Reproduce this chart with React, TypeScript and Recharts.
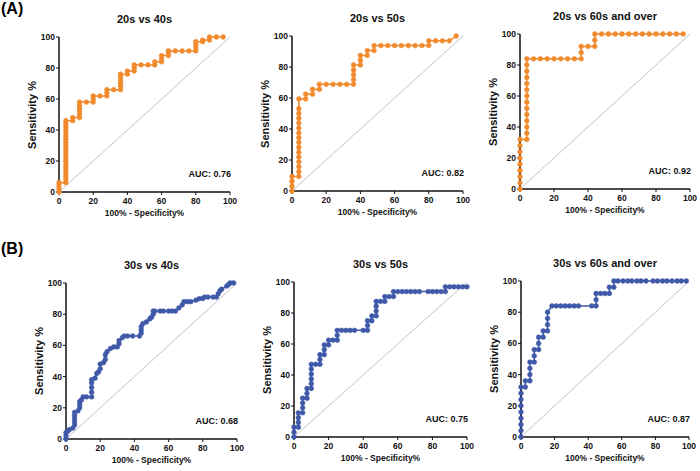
import React from 'react'
import { LineChart, Line, XAxis, YAxis, ReferenceLine } from 'recharts'

// axis ticks shared by every panel
const ticks = [0, 20, 40, 60, 80, 100]

// ROC points: [100% - specificity, sensitivity]
const roc20v40: [number, number][] = [
  [0, 0], [0, 2], [0, 4], [0, 6], [4, 6], [4, 8], [4, 10], [4, 12], [4, 14], [4, 16], [4, 18],
  [4, 20], [4, 22], [4, 24], [4, 26], [4, 28], [4, 30], [4, 32], [4, 34], [4, 36], [4, 38],
  [4, 40], [4, 42], [4, 44], [4, 46], [8, 46], [8, 48], [12, 48], [12, 50], [12, 52], [12, 54],
  [12, 56], [12, 58], [16, 58], [20, 58], [20, 60], [20, 62], [24, 62], [28, 62], [28, 64],
  [28, 66], [32, 66], [36, 66], [36, 68], [36, 70], [36, 72], [36, 74], [36, 76], [40, 76],
  [40, 78], [44, 78], [44, 80], [44, 82], [48, 82], [52, 82], [56, 82], [56, 84], [60, 84],
  [60, 86], [60, 88], [64, 88], [64, 90], [64, 91], [68, 91], [72, 91], [76, 91], [80, 91],
  [80, 93], [80, 95], [80, 97], [84, 97], [84, 98], [88, 98], [88, 100], [92, 100], [96, 100],
]

const roc20v50: [number, number][] = [
  [0, 0], [0, 3.1], [0, 6.3], [0, 9.4], [4, 9.4], [4, 12.5], [4, 15.6], [4, 18.8], [4, 21.9],
  [4, 25], [4, 28.1], [4, 31.3], [4, 34.4], [4, 37.5], [4, 40.6], [4, 43.8], [4, 46.9], [4, 50],
  [4, 53.1], [4, 59.4], [8, 59.4], [8, 62.5], [12, 62.5], [12, 65.6], [16, 65.6], [16, 68.8],
  [20, 68.8], [24, 68.8], [28, 68.8], [32, 68.8], [36, 68.8], [36, 71.9], [36, 75], [36, 78.1],
  [36, 81.3], [40, 81.3], [40, 84.4], [40, 87.5], [44, 87.5], [44, 90.6], [48, 90.6], [48, 93.8],
  [52, 93.8], [56, 93.8], [60, 93.8], [64, 93.8], [68, 93.8], [72, 93.8], [76, 93.8], [80, 93.8],
  [80, 96.9], [84, 96.9], [88, 96.9], [92, 96.9], [96, 100],
]

const roc20v60: [number, number][] = [
  [0, 0], [0, 4], [0, 8], [0, 12], [0, 16], [0, 20], [0, 24], [0, 28], [0, 32], [4, 32], [4, 36],
  [4, 40], [4, 44], [4, 48], [4, 52], [4, 56], [4, 60], [4, 64], [4, 68], [4, 72], [4, 76],
  [4, 80], [4, 84], [8, 84], [12, 84], [16, 84], [20, 84], [24, 84], [28, 84], [32, 84], [36, 84],
  [36, 88], [36, 92], [40, 92], [44, 92], [44, 96], [44, 100], [48, 100], [52, 100], [56, 100],
  [60, 100], [64, 100], [68, 100], [72, 100], [76, 100], [80, 100], [84, 100], [88, 100],
  [92, 100], [96, 100],
]

const roc30v40: [number, number][] = [
  [0, 0], [0, 2], [0, 4], [1, 5], [2, 6], [4, 7], [5, 9], [5, 11], [5, 13], [5, 15], [5, 17],
  [7, 18], [8, 20], [8, 22], [8, 24], [9, 25], [10, 27], [12, 27], [15, 27], [15, 30], [15, 33],
  [15, 36], [15, 38], [17, 39], [18, 42], [19, 43], [20, 45], [20, 48], [22, 49], [23, 51],
  [23, 54], [24, 56], [26, 58], [28, 59], [30, 59], [31, 61], [31, 63], [33, 65], [34, 66],
  [36, 66], [39, 66], [43, 66], [44, 68], [44, 70], [44, 72], [45, 74], [47, 75], [49, 77],
  [50, 78], [51, 80], [51, 82], [52, 82], [55, 82], [57, 82], [60, 82], [62, 82], [64, 82],
  [66, 84], [68, 86], [69, 88], [71, 88], [73, 88], [76, 89], [78, 90], [80, 90], [81, 91],
  [83, 91], [86, 91], [88, 91], [89, 93], [90, 95], [91, 96], [94, 98], [95, 99], [96, 100],
  [98, 100],
]

const roc30v50: [number, number][] = [
  [0, 0], [0, 3.1], [0, 6.3], [2.5, 6.3], [2.5, 9.4], [2.5, 12.5], [2.5, 15.6], [5, 15.6],
  [5, 18.8], [5, 21.9], [5, 25], [7.5, 25], [7.5, 28.1], [7.5, 31.3], [10, 31.3], [10, 34.4],
  [10, 37.5], [10, 40.6], [10, 43.8], [10, 46.9], [12.5, 46.9], [15, 46.9], [15, 50], [15, 53.1],
  [17.5, 53.1], [17.5, 56.3], [17.5, 59.4], [20, 59.4], [20, 62.5], [22.5, 62.5], [25, 62.5],
  [25, 65.6], [25, 68.8], [27.5, 68.8], [30, 68.8], [32.5, 68.8], [35, 68.8], [40, 68.8],
  [42.5, 68.8], [42.5, 71.9], [42.5, 75], [45, 75], [45, 78.1], [47.5, 78.1], [47.5, 81.3],
  [47.5, 84.4], [47.5, 87.5], [50, 87.5], [52.5, 87.5], [52.5, 90.6], [55, 90.6], [57.5, 90.6],
  [57.5, 93.8], [60, 93.8], [62.5, 93.8], [65, 93.8], [67.5, 93.8], [70, 93.8], [72.5, 93.8],
  [77.5, 93.8], [80, 93.8], [82.5, 93.8], [85, 93.8], [87.5, 93.8], [87.5, 96.9], [90, 96.9],
  [92.5, 96.9], [95, 96.9], [97.5, 96.9], [100, 96.9],
]

const roc30v60: [number, number][] = [
  [0, 0], [0, 4], [0, 8], [0, 12], [0, 16], [0, 20], [0, 24], [0, 28], [0, 32], [2.6, 32],
  [2.6, 36], [5.3, 36], [5.3, 40], [5.3, 44], [5.3, 48], [7.9, 48], [7.9, 52], [7.9, 56],
  [10.5, 56], [10.5, 60], [10.5, 64], [13.2, 64], [13.2, 68], [15.8, 68], [15.8, 72], [15.8, 76],
  [15.8, 80], [18.4, 84], [21, 84], [23.7, 84], [26.3, 84], [28.9, 84], [31.6, 84], [34.2, 84],
  [42.1, 84], [44.7, 84], [44.7, 88], [44.7, 92], [47.4, 92], [50, 92], [52.6, 92], [52.6, 96],
  [55.3, 96], [55.3, 100], [57.7, 100], [60.7, 100], [63.5, 100], [66, 100], [69, 100],
  [71.4, 100], [74.4, 100], [78.6, 100], [81.3, 100], [84.3, 100], [86.9, 100], [89.9, 100],
  [92.9, 100], [95.4, 100], [98.4, 100],
]

const ORANGE = '#F08A2D'
const BLUE = '#3F58A8'
const FONT = '"Liberation Sans", Arial, sans-serif'

// chart frame around each plot area
const YW = 30
const MT = 6
const MR = 10
const XH = 22

interface PanelProps {
  left: number
  top: number
  w: number
  h: number
  points: [number, number][]
  color: string
  title: string
  auc: string
}

function RocPanel({ left, top, w, h, points, color, title, auc }: PanelProps) {
  const data = points.map(([x, y]) => ({ x, y }))
  const axisTick = { fontSize: 8.5, fontWeight: 700, fill: '#111' }
  const bold = { position: 'absolute' as const, fontWeight: 700, color: '#111', whiteSpace: 'nowrap' as const, lineHeight: 1 }

  return (
    <div style={{ position: 'absolute', left: left - YW, top: top - MT }}>
      <LineChart
        width={YW + w + MR}
        height={MT + h + XH}
        data={data}
        margin={{ top: MT, right: MR, bottom: 0, left: 0 }}
      >
        <XAxis
          type="number"
          dataKey="x"
          domain={[0, 100]}
          ticks={ticks}
          height={XH}
          tick={axisTick}
          tickSize={3}
          tickMargin={3}
          axisLine={{ stroke: '#111', strokeWidth: 1.5 }}
          tickLine={{ stroke: '#111', strokeWidth: 1 }}
        />
        <YAxis
          type="number"
          domain={[0, 100]}
          ticks={ticks}
          width={YW}
          tick={axisTick}
          tickSize={3}
          tickMargin={1}
          axisLine={{ stroke: '#111', strokeWidth: 1.5 }}
          tickLine={{ stroke: '#111', strokeWidth: 1 }}
        />
        <ReferenceLine
          segment={[{ x: 0, y: 0 }, { x: 100, y: 100 }]}
          stroke="#b4b4b4"
          strokeWidth={0.8}
        />
        <Line
          type="linear"
          dataKey="y"
          stroke={color}
          strokeWidth={1.5}
          dot={{ r: 2.4, fill: color, stroke: color, strokeWidth: 0.5 }}
          activeDot={false}
          isAnimationActive={false}
        />
      </LineChart>

      <div style={{ ...bold, left: YW + w / 2, top: MT - 18, transform: 'translate(-50%, -50%)', fontSize: 11 }}>
        {title}
      </div>
      <div style={{ ...bold, left: YW - 27, top: MT + h / 2, transform: 'translate(-50%, -50%) rotate(-90deg)', fontSize: 11 }}>
        Sensitivity %
      </div>
      <div style={{ ...bold, left: YW + w / 2, top: MT + h + 21, transform: 'translate(-50%, -50%)', fontSize: 8.5 }}>
        100% - Specificity%
      </div>
      <div style={{ ...bold, left: YW + w + 1, top: MT + h - 18, transform: 'translate(-100%, -50%)', fontSize: 9 }}>
        AUC: {auc}
      </div>
    </div>
  )
}

export default function App() {
  return (
    <div
      style={{
        position: 'absolute',
        left: 0,
        top: 0,
        width: 700,
        height: 471,
        background: '#fff',
        fontFamily: FONT,
        overflow: 'hidden',
      }}
    >
      <div style={{ position: 'absolute', left: 1, top: 1, fontSize: 16, fontWeight: 700, lineHeight: 1 }}>(A)</div>
      <div style={{ position: 'absolute', left: 1, top: 241, fontSize: 16, fontWeight: 700, lineHeight: 1 }}>(B)</div>

      <RocPanel left={59} top={37} w={171} h={155} points={roc20v40} color={ORANGE} title="20s vs 40s" auc="0.76" />
      <RocPanel left={292} top={36} w={171} h={155} points={roc20v50} color={ORANGE} title="20s vs 50s" auc="0.82" />
      <RocPanel left={520} top={34} w={170} h={155} points={roc20v60} color={ORANGE} title="20s vs 60s and over" auc="0.92" />

      <RocPanel left={66} top={283} w={171} h={156} points={roc30v40} color={BLUE} title="30s vs 40s" auc="0.68" />
      <RocPanel left={294} top={282} w={173} h={155} points={roc30v50} color={BLUE} title="30s vs 50s" auc="0.75" />
      <RocPanel left={521} top={281} w={168} h={156} points={roc30v60} color={BLUE} title="30s vs 60s and over" auc="0.87" />
    </div>
  )
}
